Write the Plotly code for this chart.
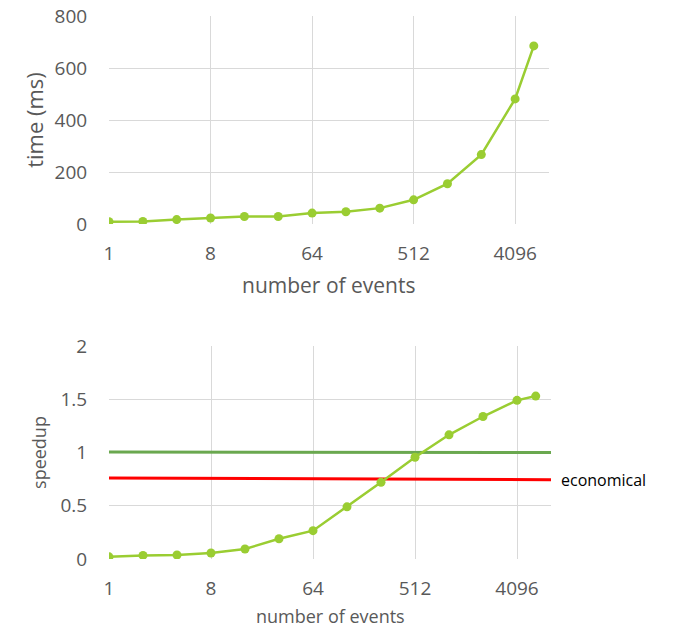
import math
import plotly.graph_objects as go

# number of events (log2 steps) and measured results
events = [1, 2, 4, 8, 16, 32, 64, 128, 256, 512, 1024, 2048, 4096, 6000]
time_ms = [9, 10, 17, 23, 29, 29, 42, 47, 61, 93, 155, 267, 481, 685]
speedup = [0.02, 0.034, 0.038, 0.056, 0.094, 0.19, 0.266, 0.49, 0.72, 0.955, 1.166, 1.338, 1.49, 1.53]

# reference lines spanning the axis
ref_x = [1, 8192]
break_even = [1.005, 1.0]
economical = [0.76, 0.745]

x_ticks = [1, 8, 64, 512, 4096]
x_tick_text = ["1", "8", "64", "512", "4096"]

W, H = 674, 627
FONT = "Open Sans"
TICK_COLOR = "#595959"
GRID = "#D9D9D9"
DATA_GREEN = "#9ACD32"
LINE_GREEN = "#6AA84F"


def px_x(p):
    return p / W


def px_y(p):
    return 1 - p / H


fig = go.Figure()

fig.add_trace(go.Scatter(
    x=events, y=time_ms, mode="lines+markers",
    line=dict(color=DATA_GREEN, width=2.5),
    marker=dict(color=DATA_GREEN, size=9),
    xaxis="x", yaxis="y", showlegend=False,
))

fig.add_trace(go.Scatter(
    x=ref_x, y=break_even, mode="lines",
    line=dict(color=LINE_GREEN, width=3),
    xaxis="x2", yaxis="y2", showlegend=False,
))
fig.add_trace(go.Scatter(
    x=ref_x, y=economical, mode="lines",
    line=dict(color="#FF0000", width=3),
    xaxis="x2", yaxis="y2", showlegend=False,
))
fig.add_trace(go.Scatter(
    x=events, y=speedup, mode="lines+markers",
    line=dict(color=DATA_GREEN, width=2.5),
    marker=dict(color=DATA_GREEN, size=9),
    xaxis="x2", yaxis="y2", showlegend=False,
))

x_common = dict(
    type="log", range=[0, math.log10(8192)],
    tickvals=x_ticks, ticktext=x_tick_text,
    showgrid=True, gridcolor=GRID, gridwidth=1,
    zeroline=False, showline=False, automargin=False,
    ticks="outside", ticklen=12, tickcolor="rgba(0,0,0,0)",
    tickfont=dict(family=FONT, size=19, color=TICK_COLOR),
)
y_common = dict(
    showgrid=True, gridcolor=GRID, gridwidth=1,
    zeroline=False, showline=False, automargin=False,
    ticks="outside", ticklen=17, tickcolor="rgba(0,0,0,0)",
    tickfont=dict(family=FONT, size=19, color=TICK_COLOR),
)

fig.update_layout(
    width=W, height=H,
    margin=dict(l=0, r=0, t=0, b=0),
    paper_bgcolor="white", plot_bgcolor="white",
    xaxis=dict(domain=[px_x(109), px_x(549)], anchor="y", **x_common),
    yaxis=dict(domain=[px_y(224), px_y(16)], anchor="x",
               range=[0, 800], tickvals=[0, 200, 400, 600, 800],
               title=dict(text="time (ms)", standoff=4,
                          font=dict(family=FONT, size=22, color=TICK_COLOR)),
               **y_common),
    xaxis2=dict(domain=[px_x(109), px_x(551)], anchor="y2", **x_common),
    yaxis2=dict(domain=[px_y(559), px_y(346)], anchor="x2",
                range=[0, 2], tickvals=[0, 0.5, 1, 1.5, 2],
                ticktext=["0", "0.5", "1", "1.5", "2"],
                title=dict(text="speedup", standoff=9,
                           font=dict(family=FONT, size=18, color=TICK_COLOR)),
                **y_common),
)

annotations = [
    dict(text="number of events", x=px_x(328), y=px_y(285),
         font=dict(family=FONT, size=21, color=TICK_COLOR)),
    dict(text="number of events", x=px_x(330), y=px_y(616),
         font=dict(family=FONT, size=18, color=TICK_COLOR)),
    dict(text="economical", x=px_x(559), y=px_y(480), xanchor="left",
         font=dict(family=FONT, size=16, color="#000000")),
]
for a in annotations:
    a.setdefault("xanchor", "center")
    fig.add_annotation(xref="paper", yref="paper", showarrow=False,
                       yanchor="middle", **a)

fig.write_html("out.html")
